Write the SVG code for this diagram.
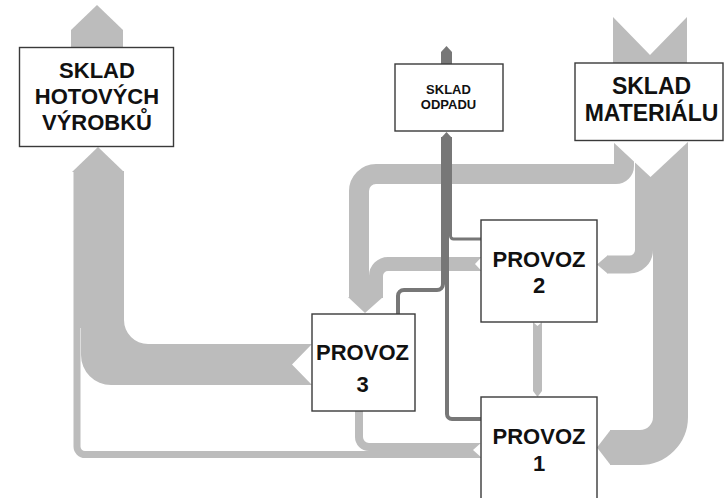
<svg xmlns="http://www.w3.org/2000/svg" width="725" height="498" viewBox="0 0 725 498">
<style>
.box{fill:#fff;stroke:#3a3a3a;stroke-width:1.4}
.lt{fill:none;stroke:#bcbcbc}
.ltf{fill:#bcbcbc}
.dk{fill:none;stroke:#777;stroke-linejoin:round}
.dkf{fill:#777}
.notch{fill:#fff}
text{font-family:"Liberation Sans",Arial,sans-serif;font-weight:bold;fill:#111;text-anchor:middle}
.big{font-size:22px}
.sm{font-size:13px}
.pv{font-size:22px}
.mat{font-size:23px}
</style>
<rect width="725" height="498" fill="#fff"/>
<g id="connectors">
 <polygon class="ltf" points="71,48 71,30 97,5 123,30 123,48"/>
 <polygon class="ltf" points="613,17 650,55 687,17 687,64 613,64"/>
 <path class="ltf" d="M79.5,171 H124 V320 A24,24 0 0 0 148,344 H312 L292,364.5 L312,385 H111 A30,30 0 0 1 81,355 V328 H79.5 Z"/>
 <polygon class="ltf" points="72,172 98,147 124,172"/>
 <path class="lt" stroke-width="7" d="M77,171 V446.5 A8,8 0 0 0 85,454.5 H481"/>
 <path class="lt" stroke-width="8" d="M359,410 V437 A10,10 0 0 0 369,447 H481"/>
 <polygon class="notch" points="482,442 473,450 482,458"/>
 <path class="lt" stroke-width="20" d="M624,140 V166 A8,8 0 0 1 616,174 H376 A17,17 0 0 0 359,191 V298"/>
 <path class="lt" stroke-width="14" d="M482,264 H388 A12,12 0 0 0 376,276 V298"/>
 <polygon class="ltf" points="348,297 365,313 383,297"/>
 <polygon class="notch" points="482,256.5 475,264 482,271.5"/>
 <path class="lt" stroke-width="18" d="M644,140 V250 A14.5,14.5 0 0 1 629.5,264.5 H607"/>
 <polygon class="ltf" points="607.5,255.5 597,264.5 607.5,273.5"/>
 <path class="lt" stroke-width="35" d="M670.5,140 V417 A30.5,30.5 0 0 1 640,447.5 H610"/>
 <polygon class="ltf" points="610.5,430 597,447.5 610.5,465"/>
 <polygon class="notch" points="612,141 650.5,177 689,141"/>
 <path class="lt" stroke-width="9" d="M537.5,321 V391"/>
 <polygon class="ltf" points="533,391 537.5,397 542,391"/>
 <polygon class="notch" points="533,322 537.5,326 542,322"/>
 <polygon class="dkf" points="441,64 441,52 446.5,46 452,52 452,64"/>
 <polygon class="dkf" points="441,138 446.5,132 452,138"/>
 <path class="dk" stroke-width="4" d="M443,137 V284 A6,6 0 0 1 437,290 H404 A6,6 0 0 0 398,296 V315"/>
 <path class="dk" stroke-width="4" d="M447,137 V414 A5,5 0 0 0 452,419 H482"/>
 <path class="dk" stroke-width="3" d="M450.5,137 V236 A3,3 0 0 0 453.5,239 H482"/>
</g>
<g id="sklad-hotovych">
 <rect class="box" x="19.5" y="47.5" width="154" height="99"/>
 <text class="big" x="97" y="77.5">SKLAD</text>
 <text class="big" x="97" y="104">HOTOVÝCH</text>
 <text class="big" x="97" y="130">VÝROBKŮ</text>
</g>
<g id="sklad-odpadu">
 <rect class="box" x="395" y="64" width="108" height="67"/>
 <text class="sm" x="448.5" y="93.5">SKLAD</text>
 <text class="sm" x="448.5" y="108.5">ODPADU</text>
</g>
<g id="sklad-materialu">
 <rect class="box" x="575" y="63" width="148" height="77.5"/>
 <text class="mat" x="651.5" y="94">SKLAD</text>
 <text class="mat" x="651.5" y="120.5">MATERIÁLU</text>
</g>
<g id="provoz-2">
 <rect class="box" x="481" y="220" width="116" height="102"/>
 <text class="pv" x="539" y="267">PROVOZ</text>
 <text class="pv" x="539" y="293">2</text>
</g>
<g id="provoz-3">
 <rect class="box" x="312" y="314" width="103" height="97"/>
 <text class="pv" x="362.5" y="360">PROVOZ</text>
 <text class="pv" x="362.5" y="391.5">3</text>
</g>
<g id="provoz-1">
 <rect class="box" x="481" y="397" width="116" height="110"/>
 <text class="pv" x="539" y="444">PROVOZ</text>
 <text class="pv" x="539" y="471">1</text>
</g>
</svg>
